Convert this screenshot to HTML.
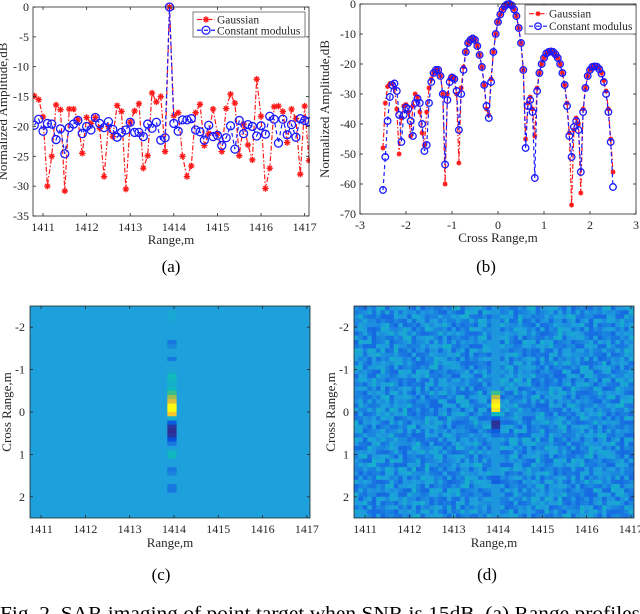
<!DOCTYPE html>
<html><head><meta charset="utf-8">
<style>
html,body{margin:0;padding:0;background:#fff;overflow:hidden}
svg{display:block;font-family:"Liberation Serif",serif}
</style></head>
<body>
<svg id="fig" width="640" height="614" viewBox="0 0 640 614" xmlns="http://www.w3.org/2000/svg"></svg>
<script>
// ---------- Chart (a) data ----------
const aX0 = 1410.8, aStep = 0.1;
const aGauss = [-14.9,-15.5,-18.4,-30,-25,-16.4,-17.2,-30.8,-17.1,-17.1,-18.9,-24.5,-18.5,-19.5,-18.5,-20.3,-28.4,-20,-21.7,-16.5,-17.5,-30.5,-19.3,-17.4,-16.2,-27,-24.9,-14.4,-15.9,-15,-24.2,0,-18.2,-17.7,-25,-28.4,-26.6,-17.7,-16.3,-23.2,-21.2,-17.1,-21.2,-24.2,-17,-14.6,-16.1,-24.9,-19.6,-23.1,-25.6,-12.1,-18.3,-30.4,-27,-16.7,-16.6,-17.5,-22.7,-17.1,-18.7,-28,-16.6,-25.7];
const aCM = [-19.8,-18.8,-20.8,-19.5,-19.6,-22.2,-20.4,-24.6,-20.2,-19.6,-19,-21.2,-20,-20.6,-18.5,-19.5,-20.2,-19.2,-20.5,-21.8,-21,-20.6,-19.3,-21,-21,-21.7,-19.6,-20.3,-19.3,-22.3,-21.9,0,-19.5,-20.8,-18.9,-18.9,-18.7,-20.6,-20.9,-22.3,-19.8,-21.7,-21.5,-23.2,-21.9,-19.9,-23.8,-19,-21.2,-19.7,-20,-21.6,-19.9,-21.3,-18.3,-18.8,-22.8,-18.8,-21.4,-19.7,-21.8,-18.7,-19,-19.2];
const aXTicks = [1411,1412,1413,1414,1415,1416,1417];
const aYTicks = [0,-5,-10,-15,-20,-25,-30,-35];
// ---------- Chart (b) data ----------
const bX0 = -2.5, bStep = 0.05;
const bGauss = [-48,-33,-27.5,-26.5,-26.5,-28,-35,-50,-38,-34,-33.5,-36,-44,-34,-30,-31,-36,-43,-47,-36,-28,-25,-23,-22,-22,-24,-30,-60,-30,-25,-24,-25,-30,-53,-28,-21,-16,-13,-12,-11.5,-12,-14,-17,-21,-27,-35,-37,-25,-16,-10,-6,-3.5,-1.8,-0.7,-0.1,0,-0.5,-1.8,-4,-8,-13,-22,-45,-33,-31,-35,-44,-28,-23,-20,-18,-16.5,-16,-15.8,-16,-16.8,-18,-20,-23,-27,-33,-43,-67,-42,-38,-40,-63,-35,-28,-24,-22,-21,-20.7,-20.8,-21.5,-23,-25.5,-29,-35,-45,-56];
const bCM = [-62,-51,-39,-31,-27,-26.5,-29,-37,-46,-37,-34.5,-35,-39,-44,-33,-31.5,-33,-40,-49,-47,-33,-26,-23,-22,-22,-24,-30,-53.5,-32,-26,-24.5,-25,-29,-42,-30,-22,-16,-13,-12,-11.5,-12,-14,-17,-21,-27,-34,-38,-26,-16,-10,-6,-3.5,-1.8,-0.7,-0.1,0,-0.5,-1.8,-4,-8,-13,-22,-48,-34,-32,-36,-58,-29,-23,-20,-18,-16.5,-16,-15.8,-16,-16.8,-18,-20,-23,-27,-34,-44,-51,-41,-39,-42,-56,-36,-28,-24,-22,-21,-20.8,-20.9,-21.7,-23.2,-26,-30,-36,-46,-61];
const bXTicks = [-3,-2,-1,0,1,2,3];
const bYTicks = [0,-10,-20,-30,-40,-50,-60,-70];
// ---------- Heatmaps (c),(d) data ----------
const hX0 = 1410.8, hXStep = 0.1, hCols = 64;
const hY0 = -2.45, hYStep = 0.1, hRows = 50;
const targetRange = 1413.95;
const cTarget = [0.38,0.42,0.42,0.40,0.38,0.38,0.38,0.38,0.30,0.33,0.38,0.38,0.30,0.38,0.38,0.42,0.50,0.48,0.45,0.50,0.62,0.75,0.85,1.0,1.0,0.9,0.45,0.2,0.05,0.02,0.05,0.15,0.3,0.38,0.48,0.5,0.38,0.38,0.30,0.32,0.38,0.38,0.30,0.30,0.38,0.38,0.38,0.38,0.38,0.38];
const cBackground = 0.38;
const dTarget = [0.36,0.36,0.33,0.36,0.36,0.36,0.36,0.36,0.36,0.36,0.36,0.36,0.36,0.36,0.36,0.36,0.36,0.36,0.36,0.36,0.62,0.8,0.95,1.0,0.95,0.5,0.2,0.02,0.05,0.2,0.28,0.36,0.36,0.36,0.36,0.36,0.36,0.36,0.36,0.36,0.25,0.22,0.36,0.36,0.36,0.36,0.36,0.36,0.36,0.36];
const dNoise = [0.34,0.28,0.38,0.31,0.40,0.30,0.36,0.26,0.42,0.33,0.29,0.37,0.32,0.44,0.27,0.35,0.39];
const hXTicks = [1411,1412,1413,1414,1415,1416,1417];
const hYTicks = [-2,-1,0,1,2];

const NS = "http://www.w3.org/2000/svg";
const svg = document.getElementById('fig');
function mk(tag, attrs, parent){
  const e = document.createElementNS(NS, tag);
  for (const k in attrs) e.setAttribute(k, attrs[k]);
  (parent||svg).appendChild(e);
  return e;
}
function txt(s, x, y, size, anchor, parent, extra){
  const t = mk('text', Object.assign({x:x, y:y, 'font-size':size, 'text-anchor':anchor||'middle', fill:'#262626'}, extra||{}), parent);
  t.textContent = s;
  return t;
}
function lin(d0,d1,r0,r1){ return v => r0 + (v-d0)*(r1-r0)/(d1-d0); }

function parula(v){
  const st = [[0,[53,42,135]],[0.15,[8,80,220]],[0.28,[24,110,225]],[0.38,[30,160,220]],[0.5,[16,185,190]],[0.62,[60,190,140]],[0.75,[160,190,80]],[0.88,[245,190,50]],[1,[249,250,20]]];
  v=Math.max(0,Math.min(1,v));
  for(let i=1;i<st.length;i++){ if(v<=st[i][0]){ const a=st[i-1],b=st[i],f=(v-a[0])/(b[0]-a[0]);
    return 'rgb('+a[1].map((c,j)=>Math.round(c+(b[1][j]-c)*f)).join(',')+')'; } }
  return 'rgb(249,250,20)';
}

function frame(g, L, T, R, B){
  const r = mk('rect',{x:L,y:T,width:R-L,height:B-T,fill:'none',stroke:'#262626','stroke-width':0.8},g);
  
  
}

function lineChart(opt){
  const g = mk('g',{});
  
  
  const {L,T,R,B} = opt;
  const sx = lin(opt.xd[0],opt.xd[1],L,R), sy = lin(opt.yd[0],opt.yd[1],T,B);
  mk('rect',{x:L,y:T,width:R-L,height:B-T,fill:'#fff'},g);
  const clipId = opt.name+'-clip';
  const cp = mk('clipPath',{id:clipId},g); mk('rect',{x:L,y:T-6,width:R-L+1,height:B-T+6},cp);
  const plot = mk('g',{'clip-path':'url(#'+clipId+')'},g);
  // series
  const series = [
    {vals:opt.g, color:'#ff1a1a', dash:'5,2,1.5,2', marker:'star', name:'series-gaussian'},
    {vals:opt.c, color:'#1a1aff', dash:'4,3', marker:'circle', name:'series-constant-modulus'}
  ];
  series.forEach(s=>{
    const sg = mk('g',{},plot);
    
    
    const pts = s.vals.map((v,i)=>[sx(opt.x0+i*opt.step), sy(v)]);
    const pl = mk('polyline',{points:pts.map(p=>p[0].toFixed(1)+','+p[1].toFixed(1)).join(' '),fill:'none',stroke:s.color,'stroke-width':1.2,'stroke-dasharray':s.dash},sg);
    
    
    pts.forEach(p=>{
      let m;
      if(s.marker==='star'){
        const r=opt.ms;
        m = mk('path',{d:`M${p[0]-r},${p[1]}h${2*r}M${p[0]},${p[1]-r}v${2*r}M${p[0]-r*0.7},${p[1]-r*0.7}l${1.4*r},${1.4*r}M${p[0]-r*0.7},${p[1]+r*0.7}l${1.4*r},${-1.4*r}`,stroke:s.color,'stroke-width':1.3,fill:'none'},sg);
      } else {
        m = mk('circle',{cx:p[0],cy:p[1],r:opt.mc,fill:'none',stroke:s.color,'stroke-width':1.3},sg);
      }
      
      
    });
  });
  // ticks
  opt.xt.forEach(v=>{ const x=sx(v);
    mk('line',{x1:x,y1:B,x2:x,y2:B-3,stroke:'#262626','stroke-width':0.8},g);
    mk('line',{x1:x,y1:T,x2:x,y2:T+3,stroke:'#262626','stroke-width':0.8},g);
    const t=txt(String(v),x,B+15,12,'middle',g);  
  });
  opt.yt.forEach(v=>{ const y=sy(v);
    mk('line',{x1:L,y1:y,x2:L+3,y2:y,stroke:'#262626','stroke-width':0.8},g);
    mk('line',{x1:R,y1:y,x2:R-3,y2:y,stroke:'#262626','stroke-width':0.8},g);
    const t=txt(String(v),L-4,y+4,12,'end',g);  
  });
  frame(g,L,T,R,B);
  const xl = txt(opt.xlabel,(L+R)/2,B+28,13,'middle',g);
   
  const yl = txt(opt.ylabel,0,0,13,'middle',g,{transform:`translate(${opt.ylx},${(T+B)/2}) rotate(-90)`});
   
  // legend
  const lg = mk('g',{},g);
   
  const [lx,ly,lw,lh]=opt.leg;
  mk('rect',{x:lx,y:ly,width:lw,height:lh,fill:'#fff',stroke:'#262626','stroke-width':0.6},lg);
  const e1 = mk('g',{},lg);  
  const y1=ly+lh*0.3, y2=ly+lh*0.73, xs=lx+4, xe=lx+22;
  mk('line',{x1:xs,y1:y1,x2:xe,y2:y1,stroke:'#ff1a1a','stroke-width':1.2,'stroke-dasharray':'5,2,1.5,2'},e1);
  const r=opt.ms, cx=(xs+xe)/2;
  mk('path',{d:`M${cx-r},${y1}h${2*r}M${cx},${y1-r}v${2*r}M${cx-r*0.7},${y1-r*0.7}l${1.4*r},${1.4*r}M${cx-r*0.7},${y1+r*0.7}l${1.4*r},${-1.4*r}`,stroke:'#ff1a1a','stroke-width':1.3},e1);
  txt('Gaussian',xe+2,y1+4,11.5,'start',e1);
  const e2 = mk('g',{},lg);  
  mk('line',{x1:xs,y1:y2,x2:xe,y2:y2,stroke:'#1a1aff','stroke-width':1.2,'stroke-dasharray':'4,3'},e2);
  mk('circle',{cx:cx,cy:y2,r:opt.mc,fill:'none',stroke:'#1a1aff','stroke-width':1.3},e2);
  txt('Constant modulus',xe+2,y2+4,11.5,'start',e2);
  const sc = txt(opt.cap,(L+R)/2+ (opt.capdx||0),opt.capy,17,'middle',g,{fill:'#000'});
   
}

lineChart({name:'chart-a-range-profile',L:33,T:7,R:309,B:216,xd:[1410.77,1417.1],yd:[0,-35],
  x0:aX0,step:aStep,g:aGauss,c:aCM,xt:aXTicks,yt:aYTicks,ms:3.2,mc:4,
  xlabel:'Range,m',ylabel:'Normalized Amplitude,dB',ylx:7,leg:[193,12,112,25],cap:'(a)',capy:272});
lineChart({name:'chart-b-cross-range-profile',L:360,T:4,R:636,B:214,xd:[-3,3],yd:[0,-70],
  x0:bX0,step:bStep,g:bGauss,c:bCM,xt:bXTicks,yt:bYTicks,ms:2.5,mc:3.3,
  xlabel:'Cross Range,m',ylabel:'Normalized Amplitude,dB',ylx:329,leg:[525,5,111,29],cap:'(b)',capy:272,capdx:-12});

function heatmap(opt){
  const g = mk('g',{});
  
  
  const {L,T,R,B}=opt;
  const sx = lin(1410.75,1417.07,L,R), sy = lin(-2.5,2.5,T,B);
  const clipId=opt.name+'-clip';
  const cp=mk('clipPath',{id:clipId},g); mk('rect',{x:L,y:T,width:R-L,height:B-T},cp);
  const pg=mk('g',{'clip-path':'url(#'+clipId+')'},g);
  mk('rect',{x:L,y:T,width:R-L,height:B-T,fill:parula(opt.bg)},pg);
  const cw = sx(hXStep)-sx(0), ch = sy(hYStep)-sy(0);
  for(let i=0;i<hCols;i++){
    const xc = hX0+i*hXStep;
    const isT = Math.abs(xc-targetRange)<0.06;
    for(let j=0;j<hRows;j++){
      let v;
      if(isT) v = opt.target[j];
      else if(opt.noise) v = opt.noise[(i*5+j*3+((i*j)%7))%opt.noise.length];
      else continue;
      const c = mk('rect',{x:(sx(xc)-cw/2).toFixed(2),y:(sy(hY0+j*hYStep)-ch/2).toFixed(2),width:(cw+0.4).toFixed(2),height:(ch+0.4).toFixed(2),fill:parula(v)},pg);
      
      
    }
  }
  hXTicks.forEach(v=>{const x=sx(v);
    mk('line',{x1:x,y1:B,x2:x,y2:B-3,stroke:'#262626','stroke-width':0.8},g);
    mk('line',{x1:x,y1:T,x2:x,y2:T+3,stroke:'#262626','stroke-width':0.8},g);
    const t=txt(String(v),x,B+15,12,'middle',g);  });
  hYTicks.forEach(v=>{const y=sy(v);
    mk('line',{x1:L,y1:y,x2:L+3,y2:y,stroke:'#262626','stroke-width':0.8},g);
    mk('line',{x1:R,y1:y,x2:R-3,y2:y,stroke:'#262626','stroke-width':0.8},g);
    const t=txt(String(v),L-5,y+4,12,'end',g);  });
  frame(g,L,T,R,B);
  const xl=txt('Range,m',(L+R)/2,B+29,13,'middle',g);  
  const yl=txt('Cross Range,m',0,0,13,'middle',g,{transform:`translate(${L-19},${(T+B)/2}) rotate(-90)`});  
  const sc=txt(opt.cap,opt.capx,580,17,'middle',g,{fill:'#000'});  
}
heatmap({name:'chart-c-sar-image-gaussian',L:30,T:306,R:310,B:518,bg:cBackground,target:cTarget,noise:null,cap:'(c)',capx:161});
heatmap({name:'chart-d-sar-image-constant-modulus',L:354,T:306,R:634,B:518,bg:0.35,target:dTarget,noise:dNoise,cap:'(d)',capx:487});

const cap = txt('Fig. 2.  SAR imaging of point target when SNR is 15dB. (a) Range profiles',0,620,19.5,'start',svg,{fill:'#000',textLength:640,lengthAdjust:'spacingAndGlyphs'});


</script>
</body></html>
